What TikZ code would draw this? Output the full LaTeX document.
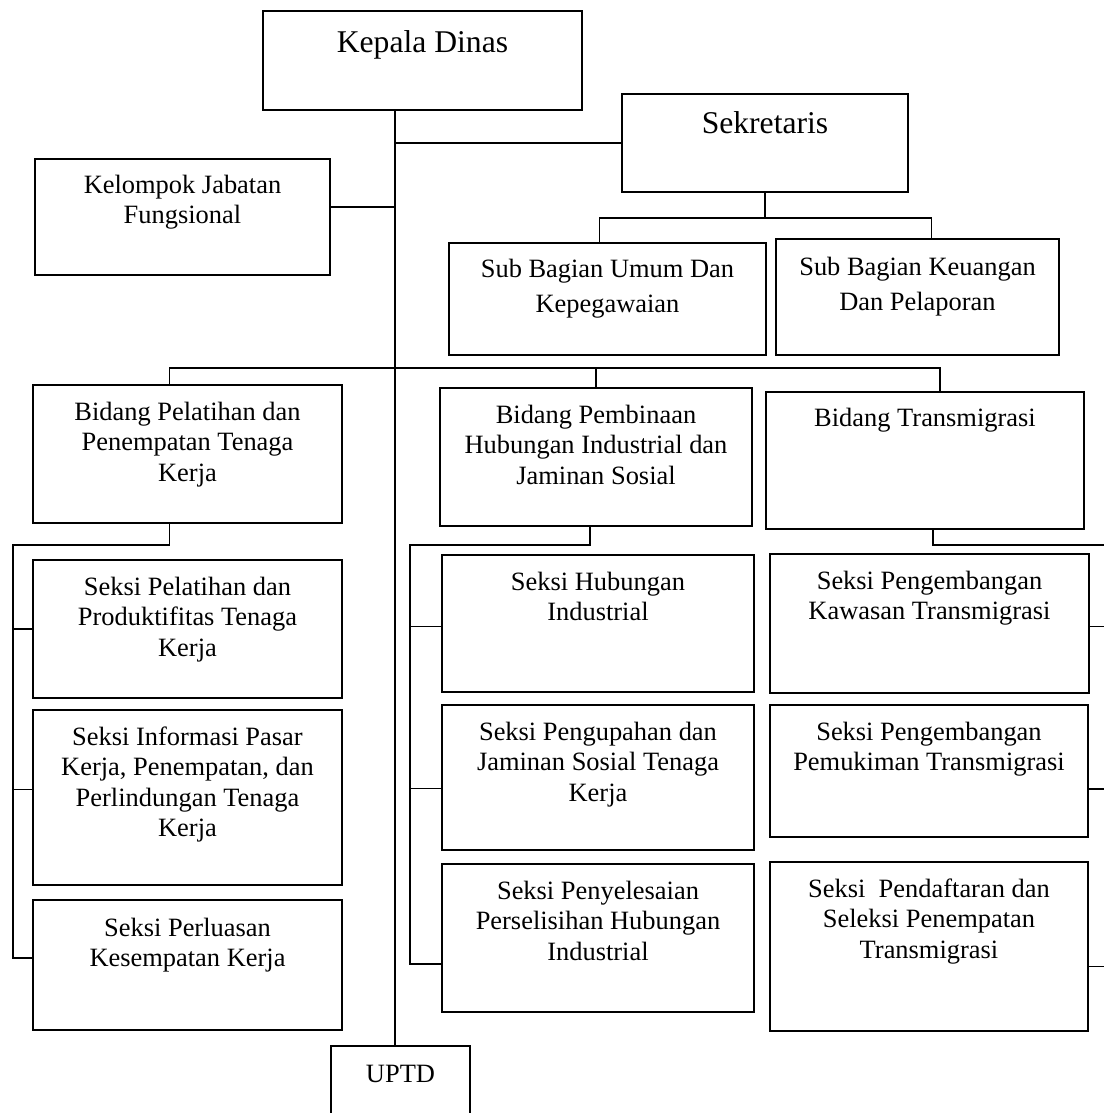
\documentclass[tikz,border=0pt]{standalone}
\usepackage{fontspec}
\setmainfont{Liberation Serif}

\newlength\pxl
\setlength\pxl{0.025cm}
\newcommand{\boxtext}[4]{\parbox[t][#2\pxl][t]{#1\pxl}{\centering\rule{0pt}{#3\pxl}#4}}
\newcommand{\bigtext}{\fontsize{22.5pt}{26pt}\selectfont}
\newcommand{\loosetext}{\fontsize{18.8pt}{24.9pt}\selectfont}

\tikzset{
	unit/.style={draw, line width=1.3pt, anchor=north west, inner sep=0pt, outer sep=0pt},
	link/.style={line width=1pt},
}

\begin{document}
\begin{tikzpicture}[x=0.025cm, y=-0.025cm, font=\fontsize{18.8pt}{21.7pt}\selectfont]

	\useasboundingbox (0,0) rectangle (1104,1113);
	\clip (0,0) rectangle (1104,1113);

	% pimpinan dan sekretariat
	\node[unit] (kadis) at (263,11)  {\boxtext{319}{99}{41}{\bigtext Kepala Dinas}};
	\node[unit] (sekr)  at (622,94)  {\boxtext{286}{98}{39}{\bigtext Sekretaris}};
	\node[unit] (kjf)   at (35,159)  {\boxtext{295}{116}{34}{Kelompok Jabatan\\Fungsional}};
	\node[unit] (sbu)   at (449,243) {\boxtext{317}{112}{34}{\loosetext Sub Bagian Umum Dan\\Kepegawaian}};
	\node[unit] (sbk)   at (776,239) {\boxtext{283}{116}{36}{\loosetext Sub Bagian Keuangan\\Dan Pelaporan}};

	% bidang
	\node[unit] (bpp) at (33,385)  {\boxtext{309}{138}{35}{Bidang Pelatihan dan\\Penempatan Tenaga\\Kerja}};
	\node[unit] (bpm) at (440,388) {\boxtext{312}{138}{35}{Bidang Pembinaan\\Hubungan Industrial dan\\Jaminan Sosial}};
	\node[unit] (btr) at (766,392) {\boxtext{318}{137}{34}{Bidang Transmigrasi}};

	% seksi
	\node[unit] (spl) at (33,560)  {\boxtext{309}{138}{35}{Seksi Pelatihan dan\\Produktifitas Tenaga\\Kerja}};
	\node[unit] (sip) at (33,710)  {\boxtext{309}{175}{35}{Seksi Informasi Pasar\\Kerja, Penempatan, dan\\Perlindungan Tenaga\\Kerja}};
	\node[unit] (spk) at (33,900)  {\boxtext{309}{130}{36}{Seksi Perluasan\\Kesempatan Kerja}};
	\node[unit] (shi) at (442,555) {\boxtext{312}{137}{35}{Seksi Hubungan\\Industrial}};
	\node[unit] (sjs) at (442,705) {\boxtext{312}{145}{35}{Seksi Pengupahan dan\\Jaminan Sosial Tenaga\\Kerja}};
	\node[unit] (sph) at (442,864) {\boxtext{312}{148}{35}{Seksi Penyelesaian\\Perselisihan Hubungan\\Industrial}};
	\node[unit] (skt) at (770,554) {\boxtext{319}{139}{35}{Seksi Pengembangan\\Kawasan Transmigrasi}};
	\node[unit] (spt) at (770,705) {\boxtext{318}{132}{35}{Seksi Pengembangan\\Pemukiman Transmigrasi}};
	\node[unit] (sps) at (770,862) {\boxtext{318}{169}{35}{Seksi~ Pendaftaran dan\\Seleksi Penempatan\\Transmigrasi}};

	\node[unit] (uptd) at (331,1046) {\boxtext{139}{90}{36}{UPTD}};

	% garis
	\coordinate (trunk) at (395,0);
	\coordinate (mbus) at (0,368);
	\coordinate (lbus) at (13,545);
	\coordinate (cbus) at (410,545);
	\coordinate (rbus) at (1110,545);

	\draw[link] (kadis.south -| trunk) -- (uptd.north -| trunk);
	\draw[link] (sekr.west) -- (sekr.west -| trunk);
	\draw[link] ([yshift=10\pxl]kjf.east) -- ([yshift=10\pxl]kjf.east -| trunk);
	\draw[link] (sekr.south) -- ++(0,26) coordinate (sbus);
	\draw[link] ([xshift=-8\pxl]sbu.north) |- (sbus) -| ([xshift=14\pxl]sbk.north);

	\draw[link] ([xshift=-18\pxl]bpp.north) |- (mbus -| trunk) -| ([xshift=15\pxl]btr.north);
	\draw[link] (bpm.north) -- (bpm.north |- mbus);

	\draw[link] ([xshift=-18\pxl]bpp.south) |- (lbus) |- ([yshift=7\pxl]spk.west);
	\draw[link] (spl.west) -- (spl.west -| lbus);
	\draw[link] ([yshift=8\pxl]sip.west) -- ([yshift=8\pxl]sip.west -| lbus);

	\draw[link] ([xshift=-6\pxl]bpm.south) |- (cbus) |- ([yshift=-26\pxl]sph.west);
	\draw[link] ([yshift=-3\pxl]shi.west) -- ([yshift=-3\pxl]shi.west -| cbus);
	\draw[link] ([yshift=-11\pxl]sjs.west) -- ([yshift=-11\pxl]sjs.west -| cbus);

	\draw[link] ([xshift=8\pxl]btr.south) |- (rbus) |- ([yshift=-20\pxl]sps.east);
	\draw[link] ([yshift=-3\pxl]skt.east) -- ([yshift=-3\pxl]skt.east -| rbus);
	\draw[link] ([yshift=-18\pxl]spt.east) -- ([yshift=-18\pxl]spt.east -| rbus);

\end{tikzpicture}
\end{document}
